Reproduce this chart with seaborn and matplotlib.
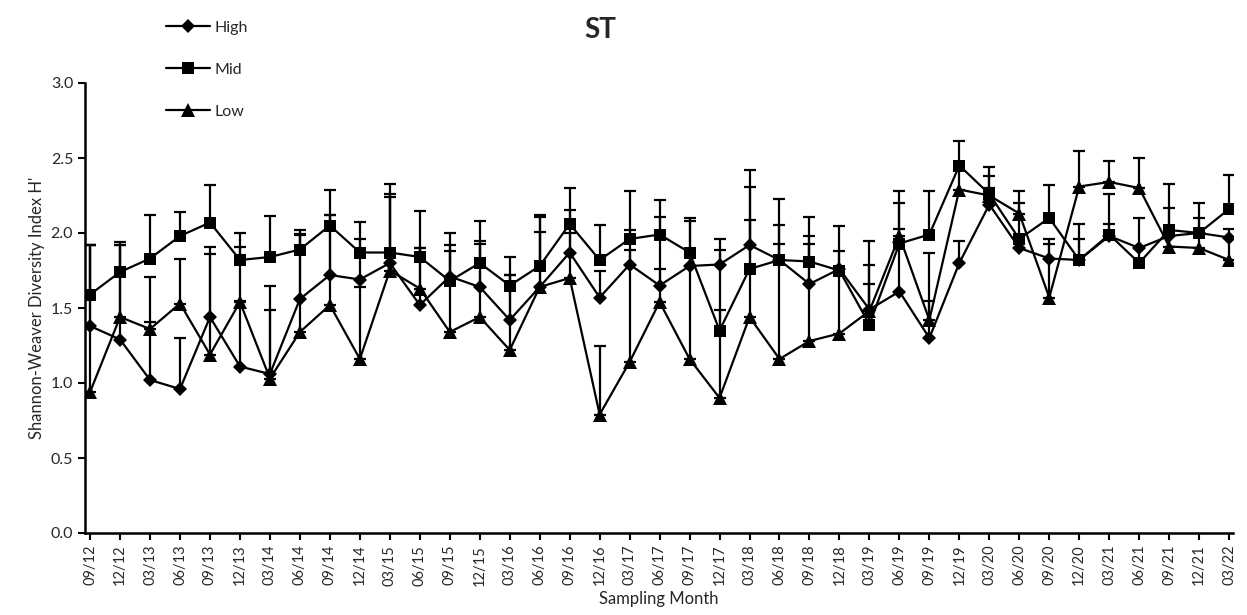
import matplotlib
matplotlib.use("Agg")
import matplotlib.pyplot as plt
import numpy as np
import pandas as pd
import seaborn as sns

sns.set_style("ticks")
plt.rcParams["font.family"] = ["Lato", "DejaVu Sans"]
plt.rcParams["font.size"] = 11

months = ["09/12", "12/12", "03/13", "06/13", "09/13", "12/13", "03/14", "06/14", "09/14", "12/14",
          "03/15", "06/15", "09/15", "12/15", "03/16", "06/16", "09/16", "12/16", "03/17", "06/17",
          "09/17", "12/17", "03/18", "06/18", "09/18", "12/18", "03/19", "06/19", "09/19", "12/19",
          "03/20", "06/20", "09/20", "12/20", "03/21", "06/21", "09/21", "12/21", "03/22"]

high = [1.38, 1.29, 1.02, 0.96, 1.44, 1.11, 1.06, 1.56, 1.72, 1.69, 1.80,
        1.52, 1.71, 1.64, 1.42, 1.64, 1.87, 1.57, 1.79, 1.65, 1.78,
        1.79, 1.92, 1.82, 1.66, 1.76, 1.49, 1.61, 1.30, 1.80,
        2.19, 1.90, 1.83, 1.82, 1.98, 1.90, 1.98, 2.00, 1.97]
high_err = [0.54, 0.63, 0.39, 0.34, 0.47, 0.44, 0.59, 0.43, 0.40, 0.27, 0.46,
            0.38, 0.29, 0.31, 0.30, 0.47, 0.28, 0.18, 0.23, 0.46, 0.30,
            0.17, 0.50, 0.23, 0.32, 0.12, 0.30, 0.59, 0.57, 0.15,
            0.11, 0.06, 0.13, 0.14, 0.08, 0.20, 0.19, 0.10, 0.06]

mid = [1.59, 1.74, 1.83, 1.98, 2.07, 1.82, 1.84, 1.89, 2.05, 1.87, 1.87,
       1.84, 1.68, 1.80, 1.65, 1.78, 2.06, 1.82, 1.96, 1.99, 1.87,
       1.35, 1.76, 1.82, 1.81, 1.75, 1.39, 1.93, 1.99, 2.45,
       2.26, 1.96, 2.10, 1.82, 1.99, 1.80, 2.02, 2.00, 2.16]
mid_err = [0.33, 0.20, 0.29, 0.16, 0.25, 0.18, 0.27, 0.13, 0.24, 0.20, 0.46,
           0.31, 0.20, 0.28, 0.19, 0.34, 0.24, 0.23, 0.32, 0.23, 0.23,
           0.14, 0.55, 0.41, 0.30, 0.30, 0.56, 0.35, 0.29, 0.16,
           0.18, 0.24, 0.22, 0.24, 0.27, 0.10, 0.31, 0.20, 0.23]

low = [0.94, 1.44, 1.36, 1.53, 1.19, 1.54, 1.03, 1.34, 1.52, 1.16, 1.75,
       1.63, 1.34, 1.44, 1.22, 1.64, 1.70, 0.79, 1.14, 1.54, 1.16,
       0.90, 1.44, 1.16, 1.28, 1.33, 1.48, 1.98, 1.42, 2.29,
       2.25, 2.13, 1.57, 2.31, 2.34, 2.30, 1.91, 1.90, 1.82]
low_err = [0.98, 0.48, 0.35, 0.30, 0.67, 0.37, 0.46, 0.65, 0.60, 0.48, 0.49,
           0.27, 0.58, 0.49, 0.50, 0.37, 0.30, 0.46, 0.75, 0.22, 0.71,
           0.99, 0.65, 0.77, 0.65, 0.43, 0.18, 0.05, 0.13, 0.16,
           0.13, 0.15, 0.36, 0.24, 0.14, 0.20, 0.11, 0.10, 0.15]

sites = ["High", "Mid", "Low"]
markers = {"High": "D", "Mid": "s", "Low": "^"}
msize = {"D": 7.5, "s": 8, "^": 10}

df = pd.DataFrame({
    "idx": np.tile(np.arange(len(months)), 3),
    "H": high + mid + low,
    "err": high_err + mid_err + low_err,
    "site": np.repeat(sites, len(months)),
})

fig = plt.figure(figsize=(12.47, 6.15), dpi=100)
ax = fig.add_axes([85 / 1247, 1 - 533 / 615, 1148 / 1247, 450 / 615])

sns.lineplot(data=df, x="idx", y="H", hue="site", style="site", hue_order=sites,
             style_order=sites, palette=["black"] * 3, markers=markers, dashes=False,
             markersize=8, linewidth=1.6, markeredgewidth=0, ax=ax, zorder=3)
for ln in ax.lines:
    if ln.get_marker() in msize:
        ln.set_markersize(msize[ln.get_marker()])

# upper error bars only
for s in sites:
    d = df[df["site"] == s]
    ax.errorbar(d["idx"], d["H"], yerr=[np.zeros(len(d)), d["err"]], fmt="none",
                ecolor="black", elinewidth=1.6, capsize=4.5, capthick=1.6, zorder=2)

handles, labels = ax.get_legend_handles_labels()
ax.get_legend().remove()
for h in handles:
    if h.get_marker() in msize:
        h.set_markersize(msize[h.get_marker()])
fig.legend(handles, labels, loc="upper left", bbox_to_anchor=(152 / 1247, 1 - 6 / 615),
           frameon=False, labelspacing=1.75, handlelength=2.7, handletextpad=0.3,
           fontsize=11.5)

ax.set_xlim(-0.17, 38.13)
ax.set_ylim(0, 3.0)
ax.set_yticks(np.arange(0, 3.01, 0.5))
ax.set_yticklabels([f"{v:.1f}" for v in np.arange(0, 3.01, 0.5)], fontsize=11.5)
ax.set_xticks(np.arange(len(months)))
ax.set_xticklabels(months, rotation=90, fontsize=10.5)
ax.tick_params(axis="both", direction="out", length=5, width=1.5, color="black")
for side in ["left", "bottom"]:
    ax.spines[side].set_linewidth(1.8)
    ax.spines[side].set_color("black")
sns.despine(ax=ax)

ax.set_xlabel("Sampling Month", fontsize=12)
ax.set_ylabel("Shannon-Weaver Diversity Index H'", fontsize=12)
fig.text(600 / 1247, 1 - 30 / 615, "ST", fontsize=20, fontweight="bold",
         ha="center", va="center")

fig.savefig("out.png", dpi=100)
